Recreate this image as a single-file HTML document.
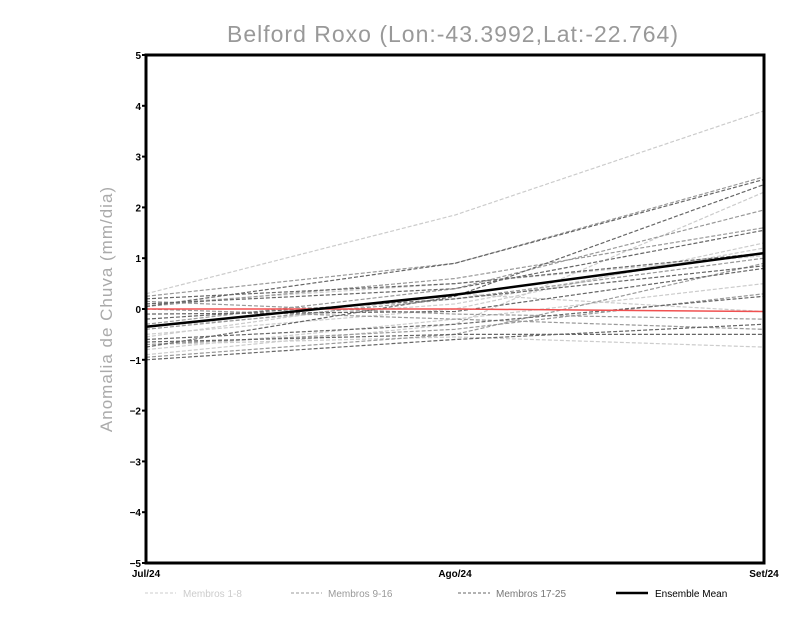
<!DOCTYPE html>
<html><head><meta charset="utf-8"><style>
body{margin:0;background:#fff;width:800px;height:618px;overflow:hidden}
svg text{font-family:"Liberation Sans",sans-serif}
</style></head><body>
<svg id="chart" width="800" height="618" xmlns="http://www.w3.org/2000/svg">
<text x="453" y="42" text-anchor="middle" font-size="23" fill="#999" letter-spacing="1">Belford Roxo (Lon:-43.3992,Lat:-22.764)</text>
<text transform="translate(112,309) rotate(-90)" text-anchor="middle" font-size="17" fill="#aaa" letter-spacing="1">Anomalia de Chuva (mm/dia)</text>
<g id="grid"></g><g id="marks"></g><g id="axes"></g>
<g font-size="10">
<g><line x1="145" y1="593" x2="176" y2="593" stroke="#ccc" stroke-dasharray="3,2"/><text x="183" y="597" fill="#ccc">Membros 1-8</text></g>
<g><line x1="291" y1="593" x2="322" y2="593" stroke="#999" stroke-dasharray="3,2"/><text x="328" y="597" fill="#999">Membros 9-16</text></g>
<g><line x1="458" y1="593" x2="490" y2="593" stroke="#666" stroke-dasharray="3,2"/><text x="496" y="597" fill="#777">Membros 17-25</text></g>
<g><line x1="616" y1="593" x2="648" y2="593" stroke="#000" stroke-width="2.5"/><text x="655" y="597" fill="#000">Ensemble Mean</text></g>
</g>
</svg>
<script>
const categories=["Jul/24","Ago/24","Set/24"];
const yTicks=[-5,-4,-3,-2,-1,0,1,2,3,4,5];
const members1to8=[[0.3,1.85,3.9],[-0.9,-0.3,2.3],[-0.7,-0.55,-0.75],[-0.5,0.0,1.3],[0.1,0.5,1.05],[-0.8,-0.2,0.5],[-0.55,0.3,-0.05],[-0.35,0.1,1.2]];
const members9to16=[[0.25,0.9,2.6],[0.05,0.6,1.6],[-0.4,0.2,1.0],[-0.7,-0.4,0.3],[0.15,-0.1,-0.2],[-0.95,-0.5,0.9],[-0.3,0.4,1.95],[0.0,-0.2,-0.4]];
const members17to25=[[-0.75,0.25,2.45],[0.2,0.5,1.1],[-0.65,-0.5,-0.5],[-0.2,0.2,0.85],[0.1,0.4,1.55],[-0.6,-0.3,0.25],[-0.1,-0.05,0.8],[-1.0,-0.6,-0.3],[0.05,0.9,2.55]];
const ensembleMean=[-0.35,0.28,1.1];
const referenceLine=[0,0,-0.05];
const X0=146,X1=764,Y0=563,Y1=55;
const xs=i=>X0+(X1-X0)*i/(categories.length-1);
const ys=v=>Y0-(v+5)/10*(Y0-Y1);
const NS="http://www.w3.org/2000/svg";
const marks=document.getElementById('marks'),axes=document.getElementById('axes');
function poly(vals,stroke,w,dash,name){
 const p=document.createElementNS(NS,'polyline');
 p.setAttribute('points',vals.map((v,i)=>xs(i)+','+ys(v)).join(' '));
 p.setAttribute('fill','none');p.setAttribute('stroke',stroke);p.setAttribute('stroke-width',w);
 if(dash)p.setAttribute('stroke-dasharray',dash);
 
 
 marks.appendChild(p);
}
members1to8.forEach((m,k)=>poly(m,'#ccc',1.2,'4,2','member-line-'+(k+1)));
members9to16.forEach((m,k)=>poly(m,'#999',1.2,'4,2','member-line-'+(k+9)));
members17to25.forEach((m,k)=>poly(m,'#666',1.2,'4,2','member-line-'+(k+17)));
poly(referenceLine,'#f05050',1.5,null,'zero-line');
poly(ensembleMean,'#000',2.5,null,'ensemble-mean-line');
const r=document.createElementNS(NS,'rect');
r.setAttribute('x',X0);r.setAttribute('y',Y1);r.setAttribute('width',X1-X0);r.setAttribute('height',Y0-Y1);
r.setAttribute('fill','none');r.setAttribute('stroke','#000');r.setAttribute('stroke-width','3');


axes.appendChild(r);
yTicks.forEach(t=>{
 const l=document.createElementNS(NS,'line');
 l.setAttribute('x1',X0-4);l.setAttribute('x2',X0);l.setAttribute('y1',ys(t));l.setAttribute('y2',ys(t));l.setAttribute('stroke','#000');l.setAttribute('stroke-width','2');
 
 
 axes.appendChild(l);
 const tx=document.createElementNS(NS,'text');
 tx.setAttribute('x',X0-5);tx.setAttribute('y',ys(t)+4);tx.setAttribute('text-anchor','end');
 tx.setAttribute('font-size','10');tx.setAttribute('font-weight','bold');
 tx.textContent=String(t).replace('-','−');
 
 
 axes.appendChild(tx);
});
categories.forEach((c,i)=>{
 const tx=document.createElementNS(NS,'text');
 tx.setAttribute('x',xs(i));tx.setAttribute('y',577);tx.setAttribute('text-anchor','middle');
 tx.setAttribute('font-size','10');tx.setAttribute('font-weight','bold');
 tx.textContent=c;
 
 
 axes.appendChild(tx);
});
</script>
</body></html>
